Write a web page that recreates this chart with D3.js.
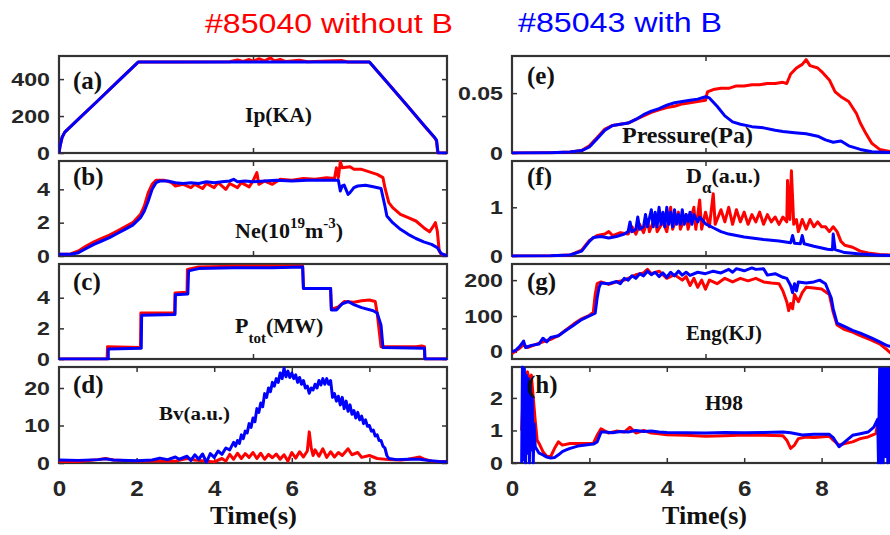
<!DOCTYPE html>
<html>
<head>
<meta charset="utf-8">
<title>#85040 vs #85043</title>
<script src="https://cdn.jsdelivr.net/npm/d3@7"></script>
<style>
  body { margin: 0; background: #fff; }
  .tick text { font-family: "Liberation Sans", Arial, sans-serif; font-weight: bold; fill: #262626; }
  .tick line { stroke: #333; stroke-width: 1.5; }
  .frame { fill: none; stroke: #333; stroke-width: 2.2; }
  .lbl { font-family: "Liberation Serif", "Times New Roman", serif; font-weight: bold; fill: #111; }
  .red { fill: none; stroke: #ff0000; stroke-width: 3; stroke-linejoin: round; }
  .blue { fill: none; stroke: #0000ff; stroke-width: 3; stroke-linejoin: round; }
  .title { font-family: "Liberation Sans", Arial, sans-serif; font-size: 27px; }
</style>
</head>
<body>
<svg id="chart"></svg>
<script>
// [time (s), value]  red = #85040, blue = #85043
var ipRed = [[0,0],[0.03,40],[0.08,85],[0.15,113],[0.5,183],[1.0,283],[1.5,384],[2.04,492],[3,493],[4.4,494],[4.6,503],[4.75,496],[4.9,506],[5.0,497],[5.15,510],[5.3,499],[5.45,515],[5.55,498],[5.7,506],[5.85,495],[6.2,502],[6.4,494],[7.3,500],[7.45,493],[8.0,492],[8.5,372],[9.0,250],[9.4,150],[9.67,85],[9.73,65],[9.76,0],[10,0]];
var ipBlue = [[0,0],[0.03,40],[0.08,85],[0.15,113],[0.5,183],[1.0,283],[1.5,384],[2.04,492],[3,493],[4,492],[5,493],[6,492],[7,493],[8.0,492],[8.5,372],[9.0,250],[9.4,152],[9.67,87],[9.73,70],[9.77,0],[10,0]];

var neRed = [[0,0.1],[0.3,0.12],[0.5,0.3],[0.7,0.6],[0.9,0.85],[1.1,1.05],[1.3,1.25],[1.5,1.5],[1.7,1.75],[1.9,2.0],[2.1,2.5],[2.2,3.0],[2.3,3.8],[2.4,4.3],[2.5,4.55],[2.7,4.55],[2.9,4.4],[3.0,4.2],[3.2,4.3],[3.4,4.1],[3.5,4.3],[3.7,4.05],[3.8,4.35],[4.0,4.1],[4.1,4.4],[4.3,4.0],[4.4,4.35],[4.6,4.1],[4.7,4.4],[4.9,4.15],[5.0,4.5],[5.1,5.0],[5.15,4.3],[5.3,4.5],[5.5,4.3],[5.7,4.6],[6.0,4.55],[6.3,4.65],[6.6,4.6],[6.9,4.7],[7.1,4.65],[7.15,5.3],[7.2,4.7],[7.25,5.65],[7.3,5.3],[7.5,5.35],[7.6,5.2],[7.8,5.2],[8.0,5.05],[8.2,4.9],[8.35,4.7],[8.4,4.1],[8.5,3.2],[8.6,2.9],[8.8,2.5],[9.0,2.3],[9.2,2.1],[9.4,1.7],[9.55,1.45],[9.65,1.8],[9.7,2.0],[9.75,1.5],[9.8,0.3],[9.85,0.1],[10,0.05]];
var neBlue = [[0,0.1],[0.3,0.1],[0.5,0.2],[0.7,0.45],[0.9,0.7],[1.1,0.9],[1.3,1.1],[1.5,1.35],[1.7,1.6],[1.9,1.85],[2.1,2.3],[2.2,2.7],[2.3,3.3],[2.4,4.0],[2.5,4.4],[2.6,4.5],[2.8,4.5],[3.0,4.4],[3.2,4.35],[3.4,4.4],[3.6,4.35],[3.8,4.45],[4.0,4.4],[4.2,4.45],[4.4,4.5],[4.5,4.6],[4.6,4.45],[4.8,4.5],[5.0,4.45],[5.3,4.5],[5.6,4.55],[6.0,4.5],[6.4,4.55],[6.8,4.55],[7.2,4.55],[7.25,3.9],[7.3,4.2],[7.35,4.25],[7.45,3.7],[7.5,3.8],[7.6,4.1],[7.7,4.2],[7.9,4.25],[8.1,4.15],[8.3,4.05],[8.4,3.0],[8.45,2.4],[8.6,2.0],[8.8,1.6],[9.0,1.3],[9.2,1.05],[9.4,0.85],[9.6,0.7],[9.75,0.5],[9.85,0.15],[9.95,0.05],[10,0.05]];

var ptRed = [[0,0],[1.24,0],[1.25,0.8],[2.1,0.75],[2.11,3.0],[2.98,3.0],[2.99,4.3],[3.3,4.35],[3.31,5.85],[3.6,6.0],[4.5,6.05],[5.5,6.05],[6.28,6.05],[6.3,4.6],[7.0,4.6],[7.02,3.25],[7.2,3.4],[7.35,3.75],[7.6,3.7],[7.8,3.8],[8.0,3.85],[8.15,3.75],[8.2,3.0],[8.3,0.8],[9.2,0.8],[9.35,0.85],[9.42,0.8],[9.43,0],[10,0]];
var ptBlue = [[0,0],[1.27,0],[1.27,0.65],[2.12,0.7],[2.13,2.85],[2.99,2.9],[3.0,4.2],[3.32,4.25],[3.34,5.75],[3.6,5.9],[4.5,5.95],[5.5,5.95],[6.28,6.0],[6.3,4.6],[7.0,4.6],[7.02,3.2],[7.15,3.2],[7.3,3.6],[7.45,3.75],[7.6,3.55],[7.8,3.35],[8.1,3.15],[8.2,3.0],[8.3,2.2],[8.35,0.75],[9.42,0.7],[9.43,0],[10,0]];

var bvRed = [[0,0.4],[0.5,0.4],[1.0,0.9],[1.2,1.2],[1.4,0.8],[2.0,0.5],[2.5,0.6],[3.0,0.5],[3.3,1.2],[3.5,0.8],[4.0,0.3],[4.2,1.2],[4.3,0.5],[4.4,2.3],[4.5,1.0],[4.6,2.6],[4.7,1.2],[4.8,2.5],[4.9,1.5],[5.0,2.8],[5.1,1.2],[5.2,2.6],[5.3,1.0],[5.4,2.3],[5.5,1.4],[5.6,2.4],[5.7,1.0],[5.8,2.2],[5.9,0.5],[6.0,2.8],[6.1,1.3],[6.2,3.0],[6.3,1.6],[6.4,3.2],[6.45,8.3],[6.5,4.0],[6.55,2.0],[6.6,3.5],[6.7,1.8],[6.8,3.8],[6.9,1.5],[7.0,3.0],[7.1,1.6],[7.2,2.8],[7.3,2.0],[7.45,3.8],[7.55,2.2],[7.7,2.8],[7.8,1.5],[8.0,2.0],[8.2,1.2],[8.5,0.9],[8.8,0.8],[9.0,1.0],[9.2,1.4],[9.3,1.6],[9.4,1.1],[9.6,0.5],[10,0.3]];
var bvBlue = [[0,0.8],[0.5,0.7],[1.0,0.9],[1.2,1.1],[1.4,0.8],[2.0,0.6],[2.4,0.8],[2.6,1.3],[2.8,0.9],[3.0,1.6],[3.1,1.0],[3.3,1.8],[3.4,0.7],[3.5,2.2],[3.6,1.0],[3.7,2.4],[3.8,0.2],[3.9,2.5],[4.0,1.5],[4.1,3.2],[4.2,2.3],[4.3,4.0],[4.4,3.5],[4.5,5.5],[4.55,4.5],[4.6,6.0],[4.65,5.2],[4.7,7.5],[4.75,6.5],[4.8,8.5],[4.85,8.0],[4.9,10.5],[4.95,9.5],[5.0,12.0],[5.05,11.0],[5.1,14.5],[5.15,13.5],[5.2,16.0],[5.25,15.0],[5.3,18.5],[5.35,17.5],[5.4,20.0],[5.45,19.0],[5.5,21.5],[5.55,20.5],[5.6,22.5],[5.65,21.5],[5.7,24.0],[5.75,22.5],[5.8,25.3],[5.85,23.0],[5.9,24.5],[5.95,22.8],[6.0,24.0],[6.05,22.5],[6.1,23.5],[6.15,21.5],[6.2,22.8],[6.25,21.0],[6.3,22.0],[6.35,20.0],[6.4,20.5],[6.45,18.6],[6.5,20.0],[6.55,19.5],[6.6,21.0],[6.65,20.0],[6.7,22.0],[6.75,20.8],[6.8,22.5],[6.85,21.0],[6.9,22.5],[6.95,21.0],[7.0,22.0],[7.05,17.5],[7.1,18.5],[7.15,16.5],[7.2,17.8],[7.25,15.5],[7.3,17.5],[7.35,14.5],[7.4,16.5],[7.45,13.8],[7.5,15.5],[7.55,13.0],[7.6,14.0],[7.65,12.0],[7.7,13.5],[7.75,11.5],[7.8,12.5],[7.85,10.5],[7.9,11.5],[7.95,9.8],[8.0,10.0],[8.05,8.5],[8.1,8.8],[8.15,7.2],[8.2,7.5],[8.25,6.0],[8.3,6.0],[8.35,4.5],[8.4,4.0],[8.45,2.0],[8.5,1.2],[8.7,0.9],[9.0,1.0],[9.3,1.0],[9.5,0.7],[9.8,0.4],[10,0.3]];

var prRed = [[0,0],[1.0,0.0003],[1.5,0.0008],[1.8,0.002],[2.0,0.006],[2.2,0.013],[2.4,0.020],[2.6,0.023],[2.8,0.024],[3.0,0.025],[3.2,0.028],[3.4,0.031],[3.6,0.034],[3.8,0.036],[4.0,0.038],[4.2,0.039],[4.4,0.041],[4.6,0.042],[4.8,0.043],[5.0,0.044],[5.05,0.051],[5.2,0.053],[5.4,0.054],[5.6,0.054],[5.8,0.056],[6.0,0.056],[6.2,0.057],[6.4,0.057],[6.6,0.058],[6.8,0.058],[7.0,0.059],[7.1,0.058],[7.2,0.066],[7.35,0.071],[7.5,0.074],[7.6,0.078],[7.7,0.073],[7.9,0.071],[8.0,0.068],[8.2,0.061],[8.35,0.051],[8.5,0.047],[8.7,0.043],[8.9,0.033],[9.0,0.025],[9.15,0.016],[9.3,0.008],[9.5,0.003],[9.8,0.001]];
var prBlue = [[0,0],[1.0,0.0003],[1.5,0.0008],[1.8,0.002],[2.0,0.005],[2.2,0.012],[2.4,0.019],[2.6,0.023],[2.8,0.024],[3.0,0.025],[3.2,0.028],[3.4,0.032],[3.6,0.035],[3.8,0.037],[4.0,0.040],[4.2,0.042],[4.4,0.043],[4.6,0.044],[4.8,0.045],[5.0,0.047],[5.1,0.046],[5.3,0.039],[5.5,0.031],[5.7,0.026],[5.9,0.024],[6.2,0.022],[6.5,0.021],[6.8,0.019],[7.0,0.018],[7.3,0.017],[7.6,0.016],[7.9,0.014],[8.1,0.011],[8.3,0.009],[8.5,0.010],[8.7,0.006],[9.0,0.003],[9.3,0.001],[9.8,0.0003]];

var daRed = [[0,0],[1.0,0.005],[1.5,0.02],[1.8,0.12],[2.0,0.32],[2.2,0.42],[2.4,0.45],[2.5,0.5],[2.6,0.42],[2.8,0.48],[3.0,0.45],[3.1,0.6],[3.2,0.45],[3.3,0.65],[3.4,0.48],[3.5,0.75],[3.55,0.5],[3.7,0.8],[3.75,0.5],[3.9,0.7],[4.0,0.5],[4.1,1.0],[4.15,0.55],[4.3,0.9],[4.35,0.55],[4.5,0.85],[4.55,0.55],[4.7,1.0],[4.75,0.55],[4.85,1.15],[4.9,0.55],[5.0,0.9],[5.1,0.6],[5.2,1.28],[5.25,0.65],[5.4,0.95],[5.5,0.7],[5.6,1.0],[5.7,0.65],[5.8,0.95],[5.9,0.7],[6.0,0.9],[6.1,0.65],[6.2,0.85],[6.3,0.7],[6.4,0.9],[6.5,0.65],[6.6,0.85],[6.7,0.7],[6.8,0.8],[6.9,0.65],[7.0,0.8],[7.1,0.7],[7.12,1.55],[7.18,0.75],[7.22,1.75],[7.28,0.65],[7.35,0.75],[7.4,0.5],[7.5,0.75],[7.6,0.55],[7.7,0.75],[7.8,0.6],[7.9,0.7],[8.0,0.6],[8.1,0.6],[8.2,0.5],[8.3,0.6],[8.4,0.5],[8.5,0.3],[8.6,0.22],[8.8,0.18],[9.0,0.1],[9.2,0.06],[9.5,0.03],[9.8,0.02]];
var daBlue = [[0,0],[1.0,0.005],[1.5,0.02],[1.8,0.1],[2.0,0.3],[2.1,0.38],[2.3,0.4],[2.5,0.37],[2.7,0.4],[2.9,0.45],[3.0,0.5],[3.05,0.7],[3.1,0.5],[3.2,0.55],[3.25,0.8],[3.3,0.55],[3.4,0.6],[3.45,0.85],[3.5,0.6],[3.6,0.95],[3.65,0.6],[3.7,0.9],[3.75,0.6],[3.8,1.0],[3.85,0.65],[3.9,0.9],[3.95,0.6],[4.0,1.0],[4.05,0.65],[4.1,0.9],[4.15,0.6],[4.2,0.95],[4.25,0.65],[4.3,0.85],[4.35,0.65],[4.4,0.95],[4.45,0.65],[4.5,0.85],[4.55,0.7],[4.6,0.9],[4.65,0.65],[4.7,0.85],[4.8,0.7],[4.85,0.8],[5.0,0.66],[5.2,0.58],[5.4,0.5],[5.6,0.45],[6.0,0.39],[6.5,0.34],[6.9,0.31],[7.2,0.27],[7.25,0.42],[7.3,0.26],[7.45,0.25],[7.5,0.42],[7.55,0.25],[7.8,0.2],[8.15,0.14],[8.28,0.13],[8.3,0.45],[8.35,0.13],[8.6,0.07],[9.0,0.04],[9.4,0.02],[9.8,0.01]];

var enRed = [[0,-5],[0.1,3],[0.2,10],[0.3,20],[0.4,12],[0.6,20],[0.8,28],[1.0,35],[1.2,45],[1.4,62],[1.6,78],[1.8,92],[2.0,102],[2.1,110],[2.15,160],[2.2,190],[2.3,195],[2.5,188],[2.7,195],[2.9,200],[3.0,205],[3.2,215],[3.4,220],[3.5,230],[3.6,218],[3.8,225],[4.0,205],[4.2,215],[4.4,200],[4.5,210],[4.6,185],[4.7,205],[4.8,180],[4.9,200],[5.0,175],[5.1,200],[5.3,190],[5.5,205],[5.7,195],[5.9,205],[6.1,198],[6.3,205],[6.5,195],[6.7,192],[6.9,190],[7.0,170],[7.1,140],[7.15,115],[7.2,135],[7.25,120],[7.3,160],[7.4,140],[7.5,165],[7.6,180],[7.8,178],[8.0,175],[8.2,160],[8.3,110],[8.4,75],[8.6,62],[8.8,55],[9.0,45],[9.3,32],[9.5,22],[9.7,5],[9.8,-5]];
var enBlue = [[0,0],[0.1,5],[0.2,15],[0.3,30],[0.35,12],[0.5,18],[0.7,22],[0.8,38],[0.9,28],[1.0,40],[1.2,45],[1.4,60],[1.6,75],[1.8,90],[2.0,100],[2.15,108],[2.2,150],[2.25,180],[2.3,192],[2.5,190],[2.7,196],[2.8,190],[2.9,205],[3.0,200],[3.1,212],[3.2,205],[3.3,218],[3.4,212],[3.5,225],[3.6,215],[3.7,222],[3.8,210],[3.9,220],[4.0,208],[4.1,222],[4.2,212],[4.3,225],[4.4,214],[4.5,222],[4.6,213],[4.8,222],[5.0,218],[5.2,225],[5.4,220],[5.6,230],[5.7,222],[5.8,232],[6.0,226],[6.2,234],[6.3,230],[6.5,232],[6.6,214],[6.8,218],[7.0,208],[7.1,205],[7.2,185],[7.25,165],[7.3,190],[7.35,170],[7.4,195],[7.6,192],[7.8,195],[7.95,200],[8.1,190],[8.25,150],[8.3,120],[8.4,80],[8.6,70],[8.8,60],[9.0,52],[9.3,38],[9.5,28],[9.7,17],[9.8,15]];

var hRed = [[0.25,1.0],[0.3,2.5],[0.4,2.8],[0.45,2.5],[0.5,2.7],[0.55,2.0],[0.6,1.3],[0.65,0.7],[0.7,0.6],[0.8,0.35],[0.9,0.2],[1.0,0.2],[1.1,0.45],[1.2,0.65],[1.3,0.55],[1.5,0.6],[1.7,0.6],[1.9,0.6],[2.1,0.6],[2.2,0.85],[2.3,1.05],[2.5,0.92],[2.7,0.98],[2.9,0.95],[3.05,1.1],[3.2,0.92],[3.4,1.0],[3.6,0.92],[3.8,0.9],[4.0,0.87],[4.5,0.85],[5.0,0.82],[5.5,0.84],[6.0,0.86],[6.5,0.85],[7.0,0.84],[7.1,0.7],[7.2,0.45],[7.3,0.55],[7.4,0.75],[7.6,0.8],[7.8,0.78],[8.2,0.82],[8.3,0.7],[8.45,0.55],[8.6,0.6],[8.8,0.65],[9.0,0.75],[9.2,0.8],[9.4,0.9],[9.45,1.2]];
var hBlue = [[0.25,0],[0.27,2.95],[0.3,0.1],[0.32,2.9],[0.35,0],[0.37,2.7],[0.4,0.3],[0.42,2.6],[0.45,0],[0.47,2.4],[0.5,0.4],[0.52,2.0],[0.55,0],[0.57,1.2],[0.6,0.5],[0.65,0.4],[0.7,0.3],[0.8,0.25],[0.9,0.18],[1.0,0.15],[1.1,0.17],[1.2,0.25],[1.3,0.35],[1.4,0.4],[1.5,0.45],[1.7,0.52],[1.9,0.55],[2.1,0.58],[2.2,0.65],[2.3,0.95],[2.4,0.95],[2.6,0.93],[2.8,0.97],[3.0,0.95],[3.2,1.0],[3.4,0.97],[3.6,0.98],[3.8,0.95],[4.0,0.94],[4.5,0.93],[5.0,0.92],[5.5,0.94],[6.0,0.93],[6.5,0.94],[7.0,0.95],[7.2,0.93],[7.5,0.86],[7.8,0.88],[8.2,0.88],[8.3,0.78],[8.45,0.5],[8.6,0.65],[8.8,0.85],[9.0,0.9],[9.2,0.95],[9.35,1.1],[9.45,1.35],[9.47,0],[9.5,2.9],[9.53,0],[9.56,2.9],[9.59,0],[9.62,2.9],[9.65,0.2],[9.68,2.9],[9.71,0],[9.74,2.9],[9.77,0]];

var timeTicks = [0, 2, 4, 6, 8];

var panels = [
  {col: 0, row: 0, tag: '(a)', yDomain: [0, 525], yTicks: [0, 200, 400], red: ipRed, blue: ipBlue},
  {col: 0, row: 1, tag: '(b)', yDomain: [0, 5.7], yTicks: [0, 2, 4], red: neRed, blue: neBlue},
  {col: 0, row: 2, tag: '(c)', yDomain: [0, 6.2], yTicks: [0, 2, 4], red: ptRed, blue: ptBlue},
  {col: 0, row: 3, tag: '(d)', yDomain: [0, 25.6], yTicks: [0, 10, 20], red: bvRed, blue: bvBlue},
  {col: 1, row: 0, tag: '(e)', yDomain: [0, 0.081], yTicks: [0, 0.05], red: prRed, blue: prBlue},
  {col: 1, row: 1, tag: '(f)', yDomain: [0, 1.95], yTicks: [0, 1], red: daRed, blue: daBlue},
  {col: 1, row: 2, tag: '(g)', yDomain: [-20, 245], yTicks: [0, 100, 200], red: enRed, blue: enBlue},
  {col: 1, row: 3, tag: '(h)', yDomain: [0, 2.95], yTicks: [0, 1, 2], red: hRed, blue: hBlue}
];

var width = 890, height = 535;
var cols = [[59, 447], [512, 899]];
var rows = [[56, 153], [161, 256], [264, 359], [367, 463]];
var tagY = [89, 185, 290, 393];

var svg = d3.select('#chart').attr('width', width).attr('height', height);

// stretch text horizontally by k (the source fonts are wider)
function stretch(sel, k) {
  sel.each(function() {
    var w = this.getComputedTextLength();
    this.setAttribute('textLength', w * k);
    this.setAttribute('lengthAdjust', 'spacingAndGlyphs');
  });
}
function fit(sel, w) {
  sel.attr('textLength', w).attr('lengthAdjust', 'spacingAndGlyphs');
}
var plain = function(d) { return String(d); };

panels.forEach(function(p, i) {
  var xr = cols[p.col], yr = rows[p.row];
  var x = d3.scaleLinear().domain([0, 10]).range(xr);
  var y = d3.scaleLinear().domain(p.yDomain).range([yr[1], yr[0]]);
  var g = svg.append('g');

  g.append('rect').attr('class', 'frame')
    .attr('x', xr[0]).attr('y', yr[0])
    .attr('width', xr[1] - xr[0]).attr('height', yr[1] - yr[0]);

  var xt = p.row == 3 ? [2, 4, 6, 8] : [5];
  var noDomain = function(s) { s.select('.domain').remove(); };

  var yl = g.append('g').attr('transform', 'translate(' + xr[0] + ',0)')
    .call(d3.axisLeft(y).tickValues(p.yTicks).tickFormat(plain).tickSize(-5).tickPadding(9)).call(noDomain);
  yl.selectAll('text').style('font-size', '19px');
  stretch(yl.selectAll('text'), 1.22);
  g.append('g').attr('transform', 'translate(' + xr[1] + ',0)')
    .call(d3.axisRight(y).tickValues(p.yTicks).tickSize(-5).tickFormat('')).call(noDomain);
  g.append('g').attr('transform', 'translate(0,' + yr[0] + ')')
    .call(d3.axisTop(x).tickValues(xt).tickSize(-5).tickFormat('')).call(noDomain);
  g.append('g').attr('transform', 'translate(0,' + yr[1] + ')')
    .call(d3.axisBottom(x).tickValues(xt).tickSize(-5).tickFormat('')).call(noDomain);

  if (p.row == 3) {
    var xl = g.append('g').attr('transform', 'translate(0,' + yr[1] + ')')
      .call(d3.axisBottom(x).tickValues(timeTicks).tickFormat(plain).tickSize(0).tickPadding(17)).call(noDomain);
    xl.selectAll('text').style('font-size', '22px');
    stretch(xl.selectAll('text'), 1.1);
  }

  g.append('clipPath').attr('id', 'clip' + i).append('rect')
    .attr('x', xr[0]).attr('y', yr[0] - 1.5)
    .attr('width', xr[1] - xr[0]).attr('height', yr[1] - yr[0] + 3);

  var line = d3.line().x(function(d) { return x(d[0]); }).y(function(d) { return y(d[1]); });
  g.append('path').datum(p.red).attr('class', 'red').attr('d', line).attr('clip-path', 'url(#clip' + i + ')');
  g.append('path').datum(p.blue).attr('class', 'blue').attr('d', line).attr('clip-path', 'url(#clip' + i + ')');

  g.append('text').attr('class', 'lbl').attr('x', xr[0] + 14 + p.col).attr('y', tagY[p.row] - (p.row == 0 && p.col == 1 ? 5 : 0))
    .style('font-size', '25px').text(p.tag);
});

// quantity names
function lbl(x, y, size, txt, w) {
  var t = svg.append('text').attr('class', 'lbl').attr('x', x).attr('y', y).style('font-size', size + 'px').text(txt);
  if (w) fit(t, w);
  return t;
}
lbl(245, 122, 21, 'Ip(KA)', 67);
var ne = svg.append('text').attr('class', 'lbl').attr('x', 235).attr('y', 238).style('font-size', '22px');
ne.append('tspan').text('Ne(10');
ne.append('tspan').attr('dy', -10).style('font-size', '15px').text('19');
ne.append('tspan').attr('dy', 10).text('m');
ne.append('tspan').attr('dy', -10).style('font-size', '15px').text('-3');
ne.append('tspan').attr('dy', 10).text(')');
var pt = svg.append('text').attr('class', 'lbl').attr('x', 235).attr('y', 333).style('font-size', '22px');
pt.append('tspan').text('P');
pt.append('tspan').attr('dy', 10).style('font-size', '15px').text('tot');
pt.append('tspan').attr('dy', -10).text('(MW)');
lbl(159, 420, 18, 'Bv(a.u.)', 71);
lbl(622, 143, 23, 'Pressure(Pa)', 131);
var da = svg.append('text').attr('class', 'lbl').attr('x', 686).attr('y', 183).style('font-size', '22px');
da.append('tspan').text('D');
da.append('tspan').attr('dy', 10).style('font-size', '17px').text('α');
da.append('tspan').attr('dy', -10).text('(a.u.)');
lbl(686, 340, 22, 'Eng(KJ)', 76);
lbl(705, 410, 20, 'H98', 38);
lbl(210, 524, 26, 'Time(s)', 87);
lbl(662, 524, 26, 'Time(s)', 85);

// shot titles
fit(svg.append('text').attr('class', 'title').attr('x', 205).attr('y', 33).attr('fill', '#ff0000').text('#85040 without B'), 248);
fit(svg.append('text').attr('class', 'title').attr('x', 518).attr('y', 32).attr('fill', '#0000ff').text('#85043 with B'), 204);
</script>
</body>
</html>
